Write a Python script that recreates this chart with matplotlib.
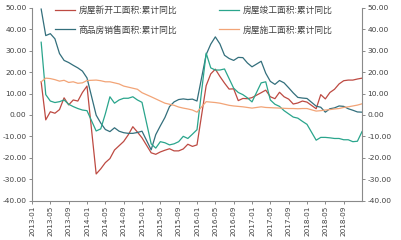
import matplotlib
matplotlib.use("Agg")
import matplotlib.pyplot as plt
import numpy as np

plt.rcParams['font.family'] = ['Noto Sans CJK SC', 'DejaVu Sans']

# Months with data (Jan-Feb reported together at Feb); 2013-02 .. 2018-12
years = [2013, 2014, 2015, 2016, 2017, 2018]
months = [2, 3, 4, 5, 6, 7, 8, 9, 10, 11, 12]

new_starts = [15.5, -2.3, 1.5, 0.8, 2.5, 8.0, 4.7, 7.0, 6.5, 10.5, 13.5,
              -27.6, -25.2, -22.3, -20.4, -16.4, -14.4, -12.4, -9.3, -5.5, -8.0, -10.7,
              -17.7, -18.4, -17.3, -16.5, -15.8, -16.8, -16.8, -15.9, -13.7, -14.7, -14.0,
              13.7, 19.2, 21.4, 18.0, 14.9, 12.1, 12.2, 6.7, 7.7, 7.6, 8.1,
              10.4, 11.6, 8.5, 7.6, 10.6, 8.5, 7.4, 5.1, 5.6, 6.5, 6.0,
              2.9, 9.5, 7.5, 10.5, 12.0, 14.5, 16.0, 16.3, 16.3, 16.8, 17.2]

sales = [49.5, 37.1, 38.0, 35.6, 28.7, 25.5, 24.5, 23.2, 22.0, 20.5, 17.3,
         -0.1, -3.8, -6.8, -7.8, -6.0, -7.6, -8.3, -8.6, -8.6, -8.2, -7.6,
         -16.3, -9.2, -5.1, -1.2, 3.9, 6.1, 7.2, 7.5, 7.2, 7.4, 6.5,
         28.2, 33.1, 36.5, 33.2, 27.9, 26.4, 25.5, 26.9, 26.8, 24.3, 22.5,
         25.1, 19.5, 15.7, 14.3, 16.1, 15.0, 12.7, 10.3, 8.2, 7.9, 7.7,
         4.1, 3.6, 1.3, 2.9, 3.3, 4.2, 4.0, 2.9, 2.2, 1.4, 1.3]

completion = [34.0, 9.5, 6.5, 5.8, 6.2, 7.0, 5.0, 3.9, 3.0, 2.3, 2.0,
              -7.5, -6.5, 0.5, 8.5, 5.5, 7.0, 7.8, 7.8, 8.5, 7.0, 5.9,
              -13.5, -15.5, -12.5, -13.0, -14.0, -13.5, -12.5, -10.0, -11.0, -9.0, -6.9,
              28.9, 22.0, 21.0, 21.0, 21.5, 17.0, 12.5, 10.5, 9.5, 8.0, 6.1,
              15.0, 15.5, 7.0, 5.0, 4.0, 2.0, 0.5, -1.0, -1.5, -3.0, -4.4,
              -11.8, -10.5, -10.5, -10.7, -11.0, -11.0, -11.6, -11.6, -12.5, -12.3, -7.8]

construction = [15.5, 17.2, 17.0, 16.5, 15.8, 16.2, 15.2, 15.5, 14.8, 15.0, 16.1,
                16.3, 16.0, 15.5, 15.5, 15.0, 14.5, 13.5, 13.0, 12.5, 12.0, 10.4,
                8.5, 7.5, 6.5, 5.5, 5.0, 4.5, 3.7, 3.2, 2.8, 2.3, 1.3,
                6.2, 6.0, 5.8, 5.5, 5.0, 4.5, 4.2, 4.0, 3.8, 3.5, 3.2,
                3.8, 3.5, 3.4, 3.3, 3.2, 3.1, 3.0, 3.0, 2.9, 3.0, 3.0,
                1.8, 2.0, 2.3, 2.5, 2.8, 3.0, 3.5, 3.8, 4.2, 4.6, 5.2]

series_names = ['房屋新开工面积:累计同比', '商品房销售面积:累计同比',
                '房屋竣工面积:累计同比', '房屋施工面积:累计同比']
series_colors = ['#bd4a42', '#336f7c', '#2aa58c', '#f2a477']

tick_labels = ['2013-01', '2013-05', '2013-09', '2014-01', '2014-05', '2014-09',
               '2015-01', '2015-05', '2015-09', '2016-01', '2016-05', '2016-09',
               '2017-01', '2017-05', '2017-09', '2018-01', '2018-05', '2018-09']
y_ticks = [-40, -30, -20, -10, 0, 10, 20, 30, 40, 50]

# month-end dates -> position in months since 2013-01
pos = np.array([12 * (y - 2013) + m for y in years for m in months], dtype=float)

fig = plt.figure(figsize=(4.01, 2.40), dpi=100)
ax = fig.add_axes([32 / 401, 1 - 200.5 / 240, 330 / 401, 192.5 / 240])

for vals, name, col in zip([new_starts, sales, completion, construction],
                           series_names, series_colors):
    ax.plot(pos, vals, color=col, lw=0.9, label=name)

ax.set_xlim(0, 72)
ax.set_ylim(-40, 50)
xt = np.arange(0, 4 * len(tick_labels), 4)
ax.set_xticks(xt)
ax.set_xticklabels(tick_labels, rotation=90, fontsize=5.2, color='#404040',
                   family='DejaVu Sans')
ax.set_yticks(y_ticks)
ax.set_yticklabels(['%.2f' % v for v in y_ticks], fontsize=5.4, color='#404040',
                   family='DejaVu Sans')

ax2 = ax.twinx()
ax2.set_ylim(-40, 50)
ax2.set_yticks(y_ticks)
ax2.set_yticklabels(['%.2f' % v for v in y_ticks], fontsize=5.4, color='#404040',
                    family='DejaVu Sans')

for a in (ax, ax2):
    a.spines['top'].set_visible(False)
    for s in ('left', 'right', 'bottom'):
        a.spines[s].set_color('#8a8a8a')
        a.spines[s].set_linewidth(0.8)
    a.tick_params(axis='both', length=2.5, width=0.7, color='#8a8a8a', pad=1.5)
ax2.spines['left'].set_visible(False)
ax2.spines['bottom'].set_visible(False)
ax.spines['right'].set_visible(False)

leg = ax.legend(loc='upper left', bbox_to_anchor=(55 / 401, 1 - 6 / 240),
                bbox_transform=fig.transFigure, ncol=2, frameon=False,
                fontsize=6.3, handlelength=2.3, handletextpad=0.4,
                columnspacing=4.8, labelspacing=1.2, borderpad=0, borderaxespad=0)
for t in leg.get_texts():
    t.set_color('#404040')

fig.savefig('out.png', dpi=100)
